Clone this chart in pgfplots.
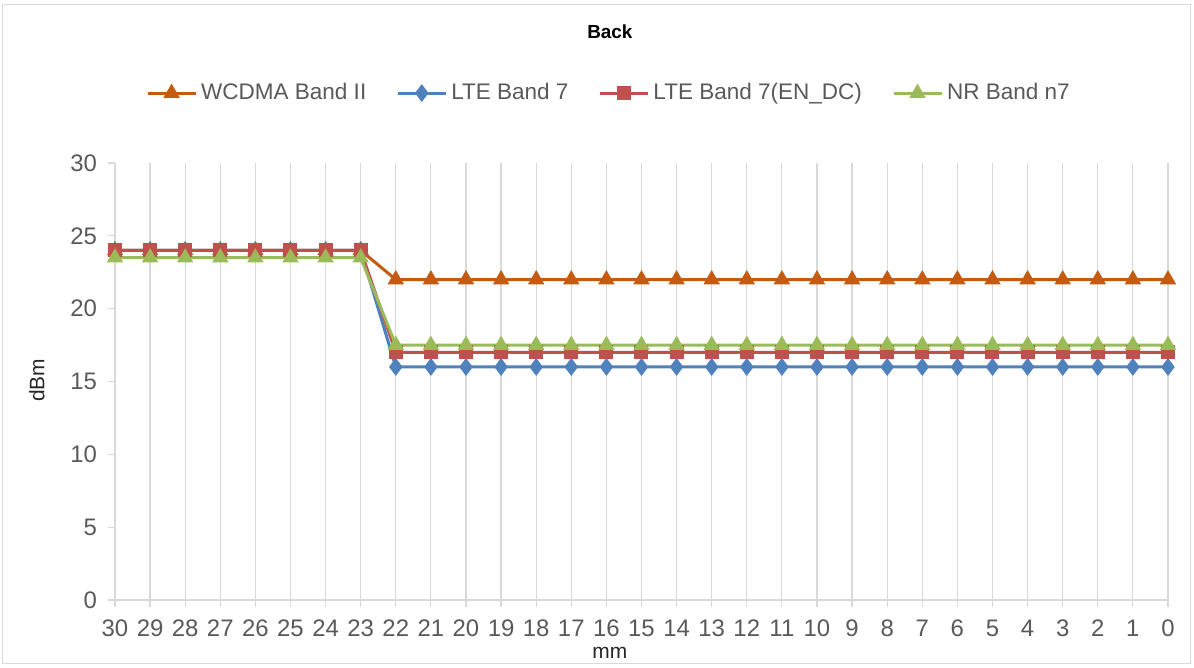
\documentclass[border=0pt]{standalone}
\usepackage{fontspec}
\setmainfont{Liberation Sans}
\usepackage{pgfplots}
\pgfplotsset{compat=1.18}
\usepackage{pgfplotstable}

\definecolor{cwcdma}{HTML}{C55A11}
\definecolor{clte}{HTML}{4F81BD}
\definecolor{cendc}{HTML}{C0504D}
\definecolor{cnr}{HTML}{9BBB59}
\definecolor{cgrid}{HTML}{D9D9D9}
\definecolor{ctxt}{HTML}{595959}

\newlength\px
\setlength\px{0.5bp}

% x(mm) WCDMA LTE ENDC NR
\pgfplotstableread{
x  wcdma lte  endc nr
30 24    24   24   23.5
29 24    24   24   23.5
28 24    24   24   23.5
27 24    24   24   23.5
26 24    24   24   23.5
25 24    24   24   23.5
24 24    24   24   23.5
23 24    24   24   23.5
22 22    16   17   17.5
21 22    16   17   17.5
20 22    16   17   17.5
19 22    16   17   17.5
18 22    16   17   17.5
17 22    16   17   17.5
16 22    16   17   17.5
15 22    16   17   17.5
14 22    16   17   17.5
13 22    16   17   17.5
12 22    16   17   17.5
11 22    16   17   17.5
10 22    16   17   17.5
9  22    16   17   17.5
8  22    16   17   17.5
7  22    16   17   17.5
6  22    16   17   17.5
5  22    16   17   17.5
4  22    16   17   17.5
3  22    16   17   17.5
2  22    16   17   17.5
1  22    16   17   17.5
0  22    16   17   17.5
}\back

\begin{document}
\begin{tikzpicture}[x=\px,y=\px]
\useasboundingbox (-115,-67) rectangle (1079,600);
\draw[cgrid, line width=1\px] (-112,-63) rectangle (1075,595);
\begin{axis}[
  at={(0,0)}, anchor=south west,
  scale only axis, width=1053\px, height=437\px,
  xmin=0, xmax=30, ymin=0, ymax=30,
  x dir=reverse,
  xtick={0,1,...,30}, ytick={0,5,...,30},
  xmajorgrids, major grid style={cgrid, line width=1.2\px},
  axis x line*=bottom, axis y line*=left,
  x axis line style={cgrid, line width=1.5\px, -},
  y axis line style={draw=none},
  tick style={cgrid, line width=1.2\px},
  tick align=outside, major tick length=7\px,
  ticklabel style={font=\fontsize{12}{14}\selectfont, text=ctxt},
  /pgf/number format/assume math mode=true,
  yticklabel style={xshift=-4\px},
  xticklabel style={yshift=-6\px},
  xlabel={mm}, ylabel={dBm},
  label style={font=\fontsize{10.5}{12}\selectfont, text=black!85},
  xlabel style={at={(rel axis cs:0.47,0)}, yshift=-58\px, anchor=base},
  ylabel style={at={(rel axis cs:0,0.503)}, yshift=78\px, anchor=center},
  title={\textbf{Back}},
  title style={font=\fontsize{9.5}{11}\selectfont, at={(rel axis cs:0.47,1)}, yshift=113\px, anchor=base},
  legend columns=4,
  legend style={draw=none, fill=none, at={(0.47,1.16)}, anchor=center,
    font=\fontsize{11.3}{13}\selectfont, text=ctxt,
    /tikz/every even column/.append style={column sep=26\px}},
  legend image code/.code={\draw[mark repeat=2,mark phase=2] plot coordinates {(0,0) (24\px,0) (48\px,0)};},
  every axis plot/.append style={line width=3\px},
]
\addplot[cwcdma, mark=triangle*, mark size=6.5\px] table[x=x,y=wcdma]{\back};
\addlegendentry{WCDMA Band II}
\addplot[clte, mark=diamond*, mark size=6.5\px] table[x=x,y=lte]{\back};
\addlegendentry{LTE Band 7}
\addplot[cendc, mark=square*, mark size=5.5\px] table[x=x,y=endc]{\back};
\addlegendentry{LTE Band 7(EN\_DC)}
\addplot[cnr, mark=triangle*, mark size=6.5\px] table[x=x,y=nr]{\back};
\addlegendentry{NR Band n7}
\end{axis}
\end{tikzpicture}
\end{document}
